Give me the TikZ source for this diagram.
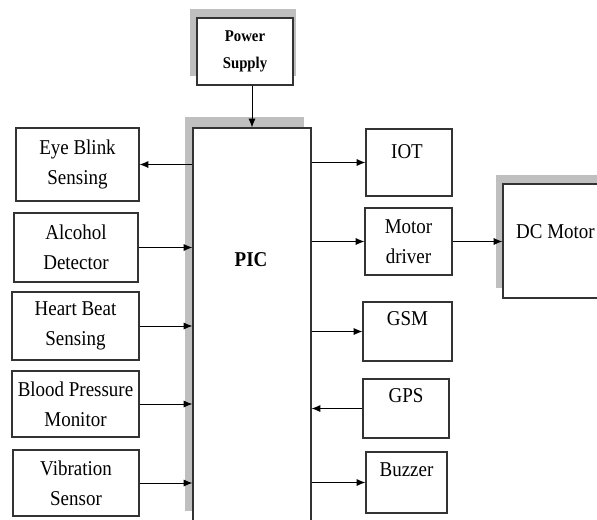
\documentclass[tikz,border=0pt]{standalone}
\usepackage{fontspec}
\setmainfont{Liberation Serif}[FakeStretch=0.9]
\usepackage{tikz}
\usetikzlibrary{positioning, arrows.meta, calc}
\definecolor{shadecol}{rgb}{0.75, 0.75, 0.75}
\definecolor{edgecol}{rgb}{0.20, 0.20, 0.20}
\tikzset{
  blk/.style={rectangle, draw=edgecol, fill=white, line width=0.9pt,
              inner sep=1pt, align=center,
              font=\fontsize{18}{25.5}\selectfont},
  in block/.style={blk},
  out block/.style={blk},
  pwr block/.style={blk, font=\fontsize{14}{23}\selectfont\bfseries},
  lbl/.style={font=\fontsize{18}{25.5}\selectfont, inner sep=0pt},
  shade/.style={fill=shadecol},
  arr/.style={-{Latex[length=7.5pt, width=6pt]}, line width=0.8pt, black},
}

\begin{document}
\begin{tikzpicture}[x=0.03cm, y=-0.03cm]
    \useasboundingbox (0,0) rectangle (597,519);
    \clip (0,0) rectangle (597,519);

    % shadows
    \fill[shade] (185,117) rectangle (304,511);
    \fill[shade] (190,9) rectangle (296,76);
    \fill[shade] (496,175) rectangle (610,288);

    \node[pwr block, minimum width=2.88cm, minimum height=2.01cm] (pwr) at (245,51.5) {Power\\Supply};
    \node[blk, minimum width=3.54cm, minimum height=14.16cm] (pic) at (252,364) {};
    \node[lbl, font=\fontsize{18}{25.5}\selectfont\bfseries, anchor=base] (pic_t) at (251,266) {PIC};

    \node[in block, minimum width=3.69cm, minimum height=2.19cm] (in_eye) at (77.5,164.5) {Eye Blink\\Sensing};
    \node[in block, minimum width=3.72cm, minimum height=2.07cm] (in_alc) at (76,247.5) {Alcohol\\Detector};
    \node[in block, minimum width=3.81cm, minimum height=2.04cm] (in_hb) at (75.5,326) {Heart Beat\\Sensing};
    \node[in block, minimum width=3.81cm, minimum height=1.98cm] (in_bp) at (75.5,404) {Blood Pressure\\Monitor};
    \node[in block, minimum width=3.78cm, minimum height=1.98cm] (in_vib) at (76,483) {Vibration\\Sensor};

    \node[out block, minimum width=2.58cm, minimum height=2.01cm] (out_iot) at (409,162.5) {};
    \node[lbl, anchor=base] (iot_t) at ($(out_iot.north)+(-2,30)$) {IOT};
    \node[out block, minimum width=2.61cm, minimum height=2.01cm] (out_drv) at (408.5,241.5) {Motor\\driver};
    \node[out block, minimum width=2.67cm, minimum height=1.77cm] (out_gsm) at (407.5,331.5) {};
    \node[lbl, anchor=base] (gsm_t) at ($(out_gsm.north)+(0,24)$) {GSM};
    \node[in block, minimum width=2.58cm, minimum height=1.77cm] (in_gps) at (406,408.5) {};
    \node[lbl, anchor=base] (gps_t) at ($(in_gps.north)+(0,24)$) {GPS};
    \node[out block, minimum width=2.43cm, minimum height=1.83cm] (out_buz) at (406.5,482.5) {};
    \node[lbl, anchor=base] (buz_t) at ($(out_buz.north)+(0,25)$) {Buzzer};

    \node[out block, minimum width=3.15cm, minimum height=3.42cm] (dcm) at (555.5,241) {};
    \node[lbl, anchor=base] (dcm_t) at (555.5,238) {DC Motor};

    \draw[arr] (pwr.south -| pic.north) -- (pic.north);
    \draw[arr] (in_eye.east -| pic.west) -- (in_eye.east);
    \draw[arr] (in_alc.east) -- (in_alc.east -| pic.west);
    \draw[arr] (in_hb.east) -- (in_hb.east -| pic.west);
    \draw[arr] (in_bp.east) -- (in_bp.east -| pic.west);
    \draw[arr] (in_vib.east) -- (in_vib.east -| pic.west);
    \draw[arr] (out_iot.west -| pic.east) -- (out_iot.west);
    \draw[arr] (out_drv.west -| pic.east) -- (out_drv.west);
    \draw[arr] (out_gsm.west -| pic.east) -- (out_gsm.west);
    \draw[arr] (in_gps.west) -- (in_gps.west -| pic.east);
    \draw[arr] (out_buz.west -| pic.east) -- (out_buz.west);
    \draw[arr] (out_drv.east) -- (out_drv.east -| dcm.west);
\end{tikzpicture}
\end{document}
